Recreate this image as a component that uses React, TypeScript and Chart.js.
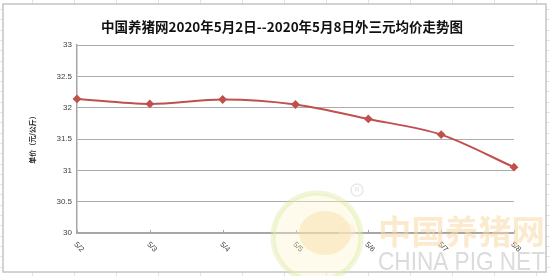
import React, { useEffect, useRef } from "react";
import { Chart, registerables } from "chart.js";

Chart.register(...registerables);

const titleText = "中国养猪网2020年5月2日--2020年5月8日外三元均价走势图";
const yAxisTitle = "单价（元/公斤）";
const categories = ["5/2", "5/3", "5/4", "5/5", "5/6", "5/7", "5/8"];
const prices = [32.14, 32.06, 32.13, 32.05, 31.82, 31.57, 31.05];
const yMin = 30;
const yMax = 33;
const yStep = 0.5;

const W = 550;
const H = 276;

const decorPlugin = {
  id: "decor",
  beforeDraw(chart: any) {
    const ctx = chart.ctx as CanvasRenderingContext2D;
    ctx.save();
    ctx.fillStyle = "#ffffff";
    ctx.fillRect(0, 0, W, H);
    ctx.strokeStyle = "#e4e4e4";
    ctx.lineWidth = 1;
    for (let x = 32; x < W; x += 42) {
      ctx.beginPath();
      ctx.moveTo(x + 0.5, 0);
      ctx.lineTo(x + 0.5, H);
      ctx.stroke();
    }
    for (let y = 9; y < H; y += 10.3) {
      ctx.beginPath();
      ctx.moveTo(0, Math.round(y) + 0.5);
      ctx.lineTo(W, Math.round(y) + 0.5);
      ctx.stroke();
    }
    ctx.fillStyle = "#ffffff";
    ctx.fillRect(3, 4, 543, 268);
    ctx.strokeStyle = "#c4c4c4";
    ctx.lineWidth = 1.5;
    ctx.strokeRect(3, 4, 543, 268);
    ctx.restore();
  },
  afterDraw(chart: any) {
    const ctx = chart.ctx as CanvasRenderingContext2D;
    const xs = chart.scales.x;
    const area = chart.chartArea;
    ctx.save();
    ctx.fillStyle = "#111111";
    ctx.font = "bold 13.5px 'Noto Sans CJK SC'";
    ctx.textAlign = "center";
    ctx.textBaseline = "middle";
    ctx.fillText(titleText, 282, 27);

    ctx.save();
    ctx.translate(32, 138);
    ctx.rotate(-Math.PI / 2);
    ctx.font = "bold 7px 'Noto Sans CJK SC'";
    ctx.fillStyle = "#222222";
    ctx.fillText(yAxisTitle, 0, 0);
    ctx.restore();

    ctx.strokeStyle = "#a6a6a6";
    ctx.lineWidth = 1;
    ctx.font = "7.5px 'Liberation Sans'";
    ctx.fillStyle = "#404040";
    categories.forEach((c, i) => {
      const x = Math.round(xs.getPixelForValue(i)) + 0.5;
      ctx.beginPath();
      ctx.moveTo(x, area.bottom);
      ctx.lineTo(x, area.bottom - 3);
      ctx.stroke();
      ctx.save();
      ctx.translate(x + 1.5, area.bottom + 14);
      ctx.rotate(Math.PI / 4);
      ctx.textAlign = "center";
      ctx.textBaseline = "middle";
      ctx.fillText(c, 0, 0);
      ctx.restore();
    });

    // watermark
    ctx.globalAlpha = 0.4;
    const cx = 317, cy = 237, r = 44;
    ctx.beginPath();
    ctx.arc(cx, cy, r, 0, Math.PI * 2);
    ctx.fillStyle = "#fdf6d2";
    ctx.fill();
    ctx.lineWidth = 5;
    ctx.strokeStyle = "#d9e89a";
    ctx.stroke();
    ctx.beginPath();
    ctx.ellipse(cx + 8, cy - 4, 26, 22, 0, 0, Math.PI * 2);
    ctx.fillStyle = "#f8d897";
    ctx.fill();
    ctx.beginPath();
    ctx.ellipse(cx + 30, cy - 6, 9, 8, 0, 0, Math.PI * 2);
    ctx.fillStyle = "#fdeccb";
    ctx.fill();
    ctx.beginPath();
    ctx.arc(357, 190, 6, 0, Math.PI * 2);
    ctx.lineWidth = 1.5;
    ctx.strokeStyle = "#c8c8c8";
    ctx.stroke();
    ctx.font = "bold 7px 'Liberation Sans'";
    ctx.fillStyle = "#c8c8c8";
    ctx.textAlign = "center";
    ctx.textBaseline = "middle";
    ctx.fillText("R", 357, 190.5);

    ctx.globalAlpha = 0.55;
    ctx.font = "bold 33px 'Noto Sans CJK SC'";
    ctx.fillStyle = "#fad9a6";
    ctx.textAlign = "left";
    ctx.textBaseline = "alphabetic";
    const cn = "中国养猪网";
    const cw = ctx.measureText(cn).width;
    ctx.save();
    ctx.translate(378, 244);
    ctx.scale(167 / cw, 1);
    ctx.fillText(cn, 0, 0);
    ctx.restore();

    ctx.globalAlpha = 0.75;
    ctx.font = "26px 'Liberation Sans'";
    ctx.fillStyle = "#cfcfcf";
    const en = "CHINA PIG NET";
    const ew = ctx.measureText(en).width;
    ctx.save();
    ctx.translate(378, 270);
    ctx.scale(167 / ew, 1);
    ctx.fillText(en, 0, 0);
    ctx.restore();

    ctx.restore();
  },
};

export default function App() {
  const ref = useRef<HTMLCanvasElement>(null);
  useEffect(() => {
    if (!ref.current) return;
    const chart = new Chart(ref.current, {
      type: "line",
      data: {
        labels: categories,
        datasets: [
          {
            data: prices,
            borderColor: "#c0504d",
            backgroundColor: "#c0504d",
            borderWidth: 2,
            tension: 0.3,
            pointStyle: "rectRot",
            pointRadius: 3,
            pointBackgroundColor: "#c0504d",
            pointBorderColor: "#c0504d",
          },
        ],
      },
      options: {
        responsive: false,
        animation: false,
        devicePixelRatio: 1,
        layout: { padding: { top: 45, right: 36, bottom: 0, left: 0 } },
        plugins: {
          legend: { display: false },
          title: { display: false },
          tooltip: { enabled: false },
        },
        scales: {
          x: {
            type: "category",
            offset: false,
            ticks: { display: false },
            grid: { display: false },
            border: { color: "#a6a6a6", width: 1.5 },
            afterFit: (s: any) => {
              s.height = 43;
            },
          },
          y: {
            min: yMin,
            max: yMax,
            ticks: {
              stepSize: yStep,
              font: { size: 8, family: "'Liberation Sans'" },
              color: "#404040",
              padding: 5,
              callback: (v: any) => String(Number(v)),
            },
            grid: { color: "#ababab", drawTicks: false },
            border: { color: "#a6a6a6", width: 1.5 },
            afterFit: (s: any) => {
              s.width = 77;
            },
          },
        },
      },
      plugins: [decorPlugin],
    });
    return () => chart.destroy();
  }, []);
  return (
    <div style={{ position: "fixed", left: 0, top: 0, width: W, height: H }}>
      <canvas ref={ref} width={W} height={H} style={{ width: W, height: H }} />
    </div>
  );
}
